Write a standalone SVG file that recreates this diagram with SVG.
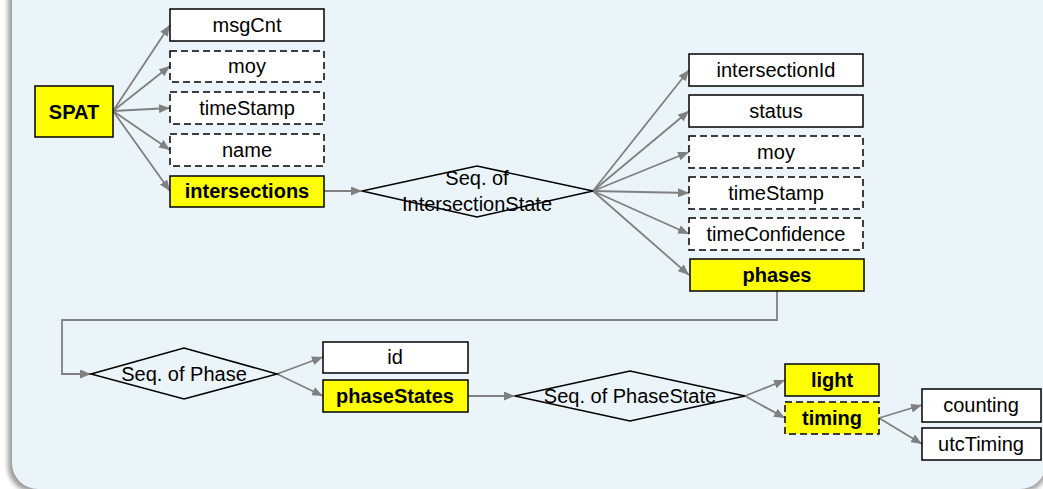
<svg xmlns="http://www.w3.org/2000/svg" width="1043" height="489" viewBox="0 0 1043 489">
  <defs>
    <marker id="arr" viewBox="0 0 11 9" refX="11" refY="4.5" markerWidth="11" markerHeight="9" markerUnits="userSpaceOnUse" orient="auto">
      <path d="M0,0 L11,4.5 L0,9 z" fill="#808080"/>
    </marker>
    <filter id="sh" x="-5%" y="-5%" width="110%" height="110%">
      <feGaussianBlur stdDeviation="2.5"/>
    </filter>
  </defs>
  <style>
    .box{fill:#ffffff;stroke:#000;stroke-width:1.5}
    .opt{stroke-dasharray:7 4}
    .key{fill:#ffff00}
    .dia{fill:none;stroke:#000;stroke-width:1.5}
    .t{font-family:"Liberation Sans",Arial,sans-serif;font-size:20px;text-anchor:middle;fill:#000}
    .b{font-weight:bold}
    .c{fill:none;stroke:#808080;stroke-width:1.8;marker-end:url(#arr)}
  </style>
  <rect x="0" y="0" width="1043" height="489" fill="#ffffff"/>
  <rect x="8" y="-80" width="1040" height="572" rx="26" fill="#9a9a9a" filter="url(#sh)"/>
  <rect x="12" y="-80" width="1034" height="569" rx="26" fill="#ebf4f8"/>

  <g id="connectors">
    <path class="c" d="M113,111 L170,25"/>
    <path class="c" d="M113,111 L170,66"/>
    <path class="c" d="M113,111 L170,108"/>
    <path class="c" d="M113,111 L170,150"/>
    <path class="c" d="M113,111 L170,191"/>
    <path class="c" d="M324,191 L362,191"/>
    <path class="c" d="M593,191 L689,70"/>
    <path class="c" d="M593,191 L689,111"/>
    <path class="c" d="M593,191 L689,152"/>
    <path class="c" d="M593,191 L689,193"/>
    <path class="c" d="M593,191 L689,234"/>
    <path class="c" d="M593,191 L689,275"/>
    <path class="c" d="M777,291 L777,320 L62,320 L62,374 L91,374"/>
    <path class="c" d="M277,374 L323,357"/>
    <path class="c" d="M277,374 L323,396"/>
    <path class="c" d="M468,396 L515,396"/>
    <path class="c" d="M745,396 L785,380"/>
    <path class="c" d="M745,396 L785,418"/>
    <path class="c" d="M879,418 L922,405"/>
    <path class="c" d="M879,418 L922,444"/>
  </g>

  <g id="SPAT"><rect class="box key" x="35" y="86" width="78" height="51"/><text class="t b" x="74" y="119">SPAT</text></g>
  <g id="msgCnt"><rect class="box" x="170" y="9" width="154" height="32"/><text class="t" x="247" y="32">msgCnt</text></g>
  <g id="moy1"><rect class="box opt" x="170" y="51" width="154" height="31"/><text class="t" x="247" y="73">moy</text></g>
  <g id="timeStamp1"><rect class="box opt" x="170" y="92" width="154" height="32"/><text class="t" x="247" y="115">timeStamp</text></g>
  <g id="name"><rect class="box opt" x="170" y="134" width="154" height="32"/><text class="t" x="247" y="157">name</text></g>
  <g id="intersections"><rect class="box key" x="170" y="176" width="154" height="31"/><text class="t b" x="247" y="198">intersections</text></g>

  <g id="seqIntersectionState"><path class="dia" d="M362,191 L477,166 L593,191 L477,217 Z"/><text class="t" x="477" y="185">Seq. of</text><text class="t" x="477" y="211">IntersectionState</text></g>

  <g id="intersectionId"><rect class="box" x="689" y="54" width="174" height="32"/><text class="t" x="776" y="77">intersectionId</text></g>
  <g id="status"><rect class="box" x="689" y="95" width="174" height="32"/><text class="t" x="776" y="118">status</text></g>
  <g id="moy2"><rect class="box opt" x="689" y="136" width="174" height="32"/><text class="t" x="776" y="159">moy</text></g>
  <g id="timeStamp2"><rect class="box opt" x="689" y="177" width="174" height="32"/><text class="t" x="776" y="200">timeStamp</text></g>
  <g id="timeConfidence"><rect class="box opt" x="689" y="218" width="174" height="32"/><text class="t" x="776" y="241">timeConfidence</text></g>
  <g id="phases"><rect class="box key" x="690" y="259" width="174" height="32"/><text class="t b" x="777" y="282">phases</text></g>

  <g id="seqPhase"><path class="dia" d="M91,374 L184,348 L277,374 L184,399 Z"/><text class="t" x="184" y="381">Seq. of Phase</text></g>
  <g id="id"><rect class="box" x="323" y="342" width="145" height="31"/><text class="t" x="395" y="364">id</text></g>
  <g id="phaseStates"><rect class="box key" x="323" y="380" width="145" height="32"/><text class="t b" x="395" y="403">phaseStates</text></g>

  <g id="seqPhaseState"><path class="dia" d="M515,396 L630,371 L745,396 L630,421 Z"/><text class="t" x="630" y="403">Seq. of PhaseState</text></g>
  <g id="light"><rect class="box key" x="785" y="364" width="94" height="32"/><text class="t b" x="832" y="387">light</text></g>
  <g id="timing"><rect class="box key opt" x="785" y="402" width="94" height="32"/><text class="t b" x="832" y="425">timing</text></g>
  <g id="counting"><rect class="box" x="922" y="389" width="119" height="33"/><text class="t" x="981" y="412">counting</text></g>
  <g id="utcTiming"><rect class="box" x="922" y="428" width="119" height="32"/><text class="t" x="981" y="451">utcTiming</text></g>
</svg>
